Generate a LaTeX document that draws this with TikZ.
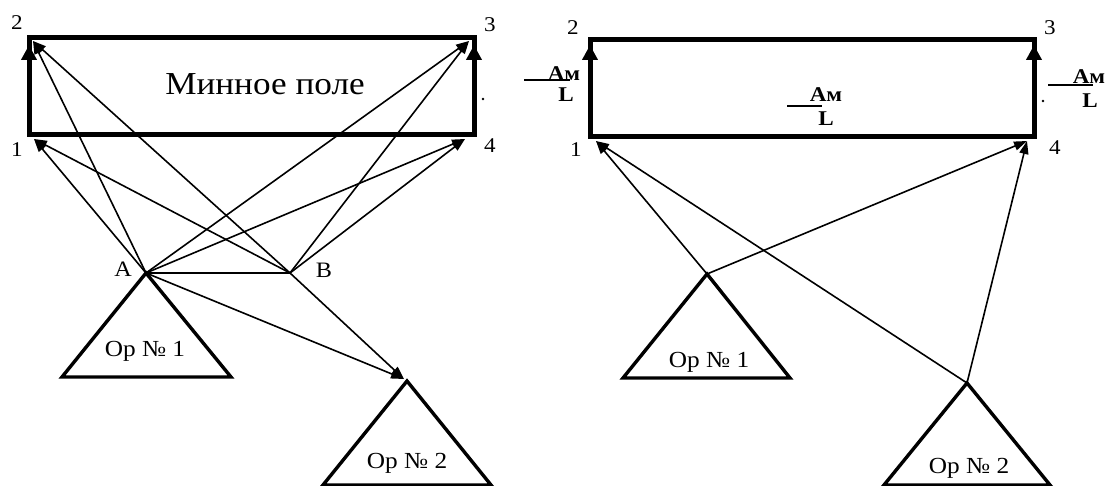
\documentclass[tikz,border=0pt]{standalone}
\usepackage{fontspec}
\setmainfont{Liberation Serif}[FakeStretch=1.1]
\usetikzlibrary{arrows.meta}
\begin{document}
\begin{tikzpicture}[x=1pt,y=-1pt,
  field/.style={line width=5pt,line join=miter},
  edgearrow/.style={line width=5pt,-{Triangle[length=15pt,width=15pt]}},
  ray/.style={line width=1.6pt,-{Triangle[length=13pt,width=9pt]}},
  post/.style={line width=3.4pt,line join=miter},
  abline/.style={line width=2.8pt},
  fracline/.style={line width=1.6pt},
  num/.style={font=\fontsize{21}{23}\selectfont,inner sep=0pt},
  pt/.style={font=\fontsize{22}{24}\selectfont,inner sep=0pt},
  optext/.style={font=\fontsize{23}{25}\selectfont,inner sep=0pt,anchor=base},
  title/.style={font=\fontsize{32}{34}\selectfont,inner sep=0pt,anchor=base},
  am/.style={font=\fontsize{21}{23}\selectfont\bfseries,inner sep=0pt}
]
\useasboundingbox (0,0) rectangle (1109,486);

% ---------------- left panel ----------------
\coordinate (L1) at (34,139);
\coordinate (L2) at (33,41);
\coordinate (L3) at (469,41);
\coordinate (L4) at (465,139);
\coordinate (A) at (146,273);
\coordinate (B) at (290,273);
\coordinate (P2) at (407,381);
\coordinate (P2tip) at (404,379);

\draw[field] (29,38) rectangle (474,135);
\draw[edgearrow] (29,135) -- (29,45);
\draw[edgearrow] (474,135) -- (474,45);
\node[title] (mp) at (265,95) {Минное поле};
\fill (483,99) circle (1.3);

\node[num] (n2) at (17,23) {2};
\node[num] (n3) at (490,25) {3};
\node[num] (n1) at (17,150) {1};
\node[num] (n4) at (490,146) {4};

\draw[abline] (A) -- (B);
\node[pt] (lA) at (123,269) {А};
\node[pt] (lB) at (324,270) {В};

\foreach \t in {L1,L2,L3,L4}{
  \draw[ray] (A) -- (\t);
  \draw[ray] (B) -- (\t);
}
\draw[ray] (A) -- (P2tip);
\draw[ray] (B) -- (P2tip);

\draw[post] (A) -- (62,377) -- (231,377) -- cycle;
\node[optext] (op1) at (145,357) {Ор № 1};
\draw[post] (P2) -- (323,485) -- (491,485) -- cycle;
\node[optext] (op2) at (407,468) {Ор № 2};

% ---------------- right panel ----------------
\coordinate (R1) at (596,141);
\coordinate (R4) at (1027,141);
\coordinate (Q1) at (707,274);
\coordinate (Q2) at (967,383);

\draw[field] (590,40) rectangle (1034,137);
\draw[edgearrow] (590,137) -- (590,45);
\draw[edgearrow] (1034,137) -- (1034,45);
\fill (1043,101) circle (1.3);

\node[num] (m2) at (573,28) {2};
\node[num] (m3) at (1050,28) {3};
\node[num] (m1) at (576,150) {1};
\node[num] (m4) at (1055,148) {4};

% fractions
\draw[fracline] (524,80) -- (570,80);
\node[am] (fa1) at (564,74) {Ам};
\node[am] (fl1) at (566,95) {L};
\draw[fracline] (787,106) -- (822,106);
\node[am] (fa2) at (826,95) {Ам};
\node[am] (fl2) at (826,119) {L};
\draw[fracline] (1048,85) -- (1093,85);
\node[am] (fa3) at (1089,77) {Ам};
\node[am] (fl3) at (1090,101) {L};

\draw[ray] (Q1) -- (R1);
\draw[ray] (Q1) -- (R4);
\draw[ray] (Q2) -- (R1);
\draw[ray] (Q2) -- (R4);

\draw[post] (Q1) -- (623,378) -- (790,378) -- cycle;
\node[optext] (op1r) at (709,367) {Ор № 1};
\draw[post] (Q2) -- (884,485) -- (1050,485) -- cycle;
\node[optext] (op2r) at (969,473) {Ор № 2};
\end{tikzpicture}
\end{document}
